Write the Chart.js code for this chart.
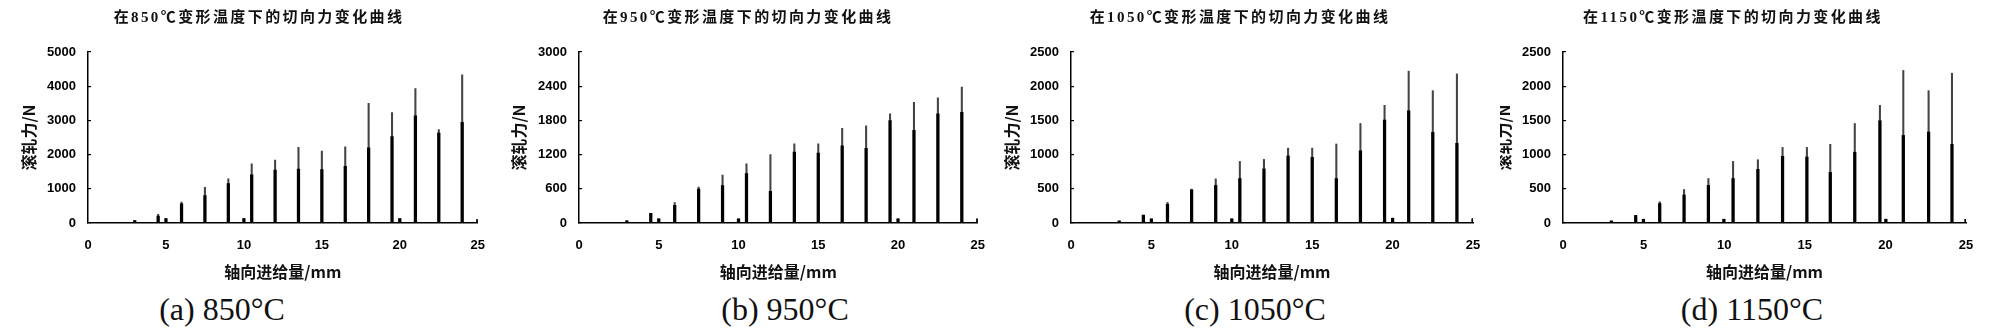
<!DOCTYPE html>
<html lang="zh">
<head>
    <meta charset="UTF-8">
    <title>切向力变化曲线</title>
    <style>
        body { margin: 0; background: #fff; width: 2000px; height: 328px; position: relative; overflow: hidden; }
        .panel { position: absolute; top: 0; width: 500px; height: 328px; overflow: hidden; }
        .panel canvas { position: absolute; top: 0; }
        .ttl { position: absolute; top: 5px; font: bold 15px "Liberation Serif", "Noto Sans CJK SC"; letter-spacing: 2.4px; white-space: nowrap; transform: translateX(-50%); color: #111; }
        .cap { position: absolute; top: 293px; font: 32px "Liberation Serif"; line-height: 32px; white-space: nowrap; transform: translateX(-50%); color: #111; }
    </style>
</head>
<body>
<div class="panel" style="left:0"><canvas id="c1" width="500" height="286" style="left:0"></canvas></div>
<div class="panel" style="left:500px"><canvas id="c2" width="500" height="286" style="left:0"></canvas></div>
<div class="panel" style="left:1000px"><canvas id="c3" width="500" height="286" style="left:0"></canvas></div>
<div class="panel" style="left:1500px"><canvas id="c4" width="506" height="286" style="left:-6px"></canvas></div>

<div class="ttl" style="left:259px">在850℃变形温度下的切向力变化曲线</div>
<div class="ttl" style="left:748px">在950℃变形温度下的切向力变化曲线</div>
<div class="ttl" style="left:1240px">在1050℃变形温度下的切向力变化曲线</div>
<div class="ttl" style="left:1733px">在1150℃变形温度下的切向力变化曲线</div>

<div class="cap" style="left:222px">(a) 850°C</div>
<div class="cap" style="left:785px">(b) 950°C</div>
<div class="cap" style="left:1255px">(c) 1050°C</div>
<div class="cap" style="left:1752px">(d) 1150°C</div>

<script src="https://cdn.jsdelivr.net/npm/chart.js"></script>
<script>
    // feed positions (mm)
    const feed = [3, 4.5, 5, 6, 7.5, 9, 10, 10.5, 12, 13.5, 15, 16.5, 18, 19.5, 20, 21, 22.5, 24, 25];
    const feed1150 = [3, 4.51, 4.99, 6, 7.51, 9.02, 9.98, 10.55, 12.09, 13.62, 15.13, 16.58, 18.1, 19.66, 20.03, 21.11, 22.68, 24.13, 25];

    // peak = thin top of each spike, body = thick lower part (N)
    const peak850 = [70, 250, 130, 610, 1040, 1290, 130, 1730, 1840, 2210, 2100, 2230, 3500, 3230, 130, 3930, 2730, 4330, 100];
    const body850 = [70, 200, 130, 560, 800, 1150, 130, 1410, 1550, 1580, 1560, 1660, 2200, 2530, 130, 3130, 2630, 2940, 100];

    const peak950 = [40, 170, 75, 360, 630, 840, 75, 1040, 1200, 1390, 1390, 1660, 1705, 1915, 75, 2115, 2195, 2385, 75];
    const body950 = [40, 170, 75, 310, 595, 655, 75, 865, 555, 1245, 1225, 1355, 1310, 1795, 75, 1625, 1915, 1940, 75];

    const peak1050 = [30, 115, 60, 300, 495, 645, 60, 900, 930, 1095, 1095, 1155, 1455, 1720, 70, 2220, 1935, 2180, 60];
    const body1050 = [30, 115, 60, 275, 485, 550, 60, 650, 790, 980, 960, 650, 1055, 1505, 70, 1640, 1325, 1165, 60];

    const peak1150 = [30, 110, 55, 310, 490, 650, 55, 900, 925, 1105, 1105, 1150, 1455, 1720, 55, 2230, 1935, 2190, 55];
    const body1150 = [30, 110, 55, 285, 410, 550, 55, 650, 785, 975, 965, 740, 1035, 1495, 55, 1280, 1330, 1150, 55];

    const xTicks = [0, 5, 10, 15, 20, 25];

    function pts(xs, ys) {
        return xs.map((x, i) => ({x: x, y: ys[i]}));
    }

    const tickFont = {family: 'Liberation Sans', size: 13, weight: 'bold'};
    const titleFont = {family: 'Noto Sans CJK SC', size: 16, weight: 'bold'};

    function createChart(id, xs, peak, body, yMax, yStep, yWidth, padRight, yTitlePad) {
        new Chart(document.getElementById(id), {
            type: 'bar',
            data: {
                datasets: [
                    {
                        data: pts(xs, body),
                        backgroundColor: '#000',
                        barThickness: 2.6,
                        grouped: false
                    },
                    {
                        data: pts(xs, peak),
                        backgroundColor: '#444',
                        barThickness: 1.4,
                        grouped: false
                    }
                ]
            },
            options: {
                responsive: false,
                animation: false,
                devicePixelRatio: 1,
                layout: {padding: {top: 52, right: padRight, bottom: 0, left: 0}},
                plugins: {legend: {display: false}, tooltip: {enabled: false}},
                scales: {
                    x: {
                        type: 'linear',
                        min: 0,
                        max: 25,
                        offset: false,
                        afterBuildTicks: s => { s.ticks = xTicks.map(v => ({value: v})); },
                        afterFit: s => { s.height = 63; },
                        grid: {display: false, drawTicks: false},
                        border: {color: '#000', width: 1.5},
                        ticks: {padding: 15, color: '#000', font: tickFont, callback: v => String(v)},
                        title: {display: true, text: '轴向进给量/mm', color: '#111', padding: {top: 0, bottom: 4}, font: titleFont}
                    },
                    y: {
                        min: 0,
                        max: yMax,
                        afterFit: s => { s.width = yWidth; },
                        // short tick marks pointing into the plot
                        grid: {drawOnChartArea: false, drawTicks: true, tickLength: -3, color: '#000', lineWidth: 1.2},
                        border: {color: '#000', width: 1.5},
                        ticks: {stepSize: yStep, padding: 15, color: '#000', font: tickFont, callback: v => String(v)},
                        title: {display: true, text: '滚轧力/N', color: '#111', padding: {top: yTitlePad, bottom: 0}, font: titleFont}
                    }
                }
            }
        });
    }

    createChart('c1', feed, peak850, body850, 5000, 1000, 88, 8, 19);
    createChart('c2', feed, peak950, body950, 3000, 600, 79, 20, 9);
    createChart('c3', feed, peak1050, body1050, 2500, 500, 71, 27, 2);
    createChart('c4', feed1150, peak1150, body1150, 2500, 500, 69, 34, 0);
</script>
</body>
</html>
